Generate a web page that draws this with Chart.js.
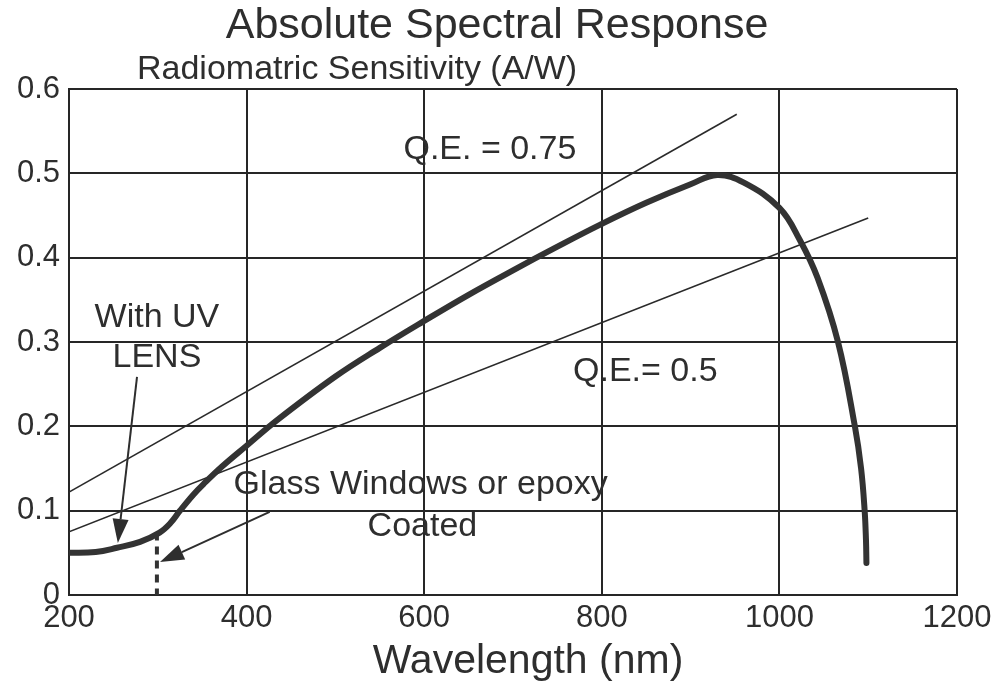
<!DOCTYPE html>
<html>
<head>
<meta charset="utf-8">
<script src="https://cdn.jsdelivr.net/npm/chart.js@4"></script>
<style>
  html, body { margin: 0; padding: 0; background: #fff; }
  #wrap { width: 1001px; height: 695px; }
</style>
</head>
<body>
<div id="wrap"><canvas id="chart" width="1001" height="695"></canvas></div>
<script>
// ---------- Data ----------
const wavelength = [200, 230, 254, 280, 302, 314, 325, 340, 351, 372, 400, 434, 500, 550, 600, 650, 700, 750, 800, 850, 900, 930, 960, 1000, 1023, 1043, 1066, 1085, 1092, 1096, 1097.5, 1098];
const response   = [0.050, 0.051, 0.056, 0.063, 0.074, 0.085, 0.100, 0.119, 0.131, 0.152, 0.177, 0.207, 0.259, 0.293, 0.325, 0.356, 0.385, 0.413, 0.440, 0.465, 0.487, 0.498, 0.489, 0.459, 0.421, 0.376, 0.300, 0.200, 0.150, 0.100, 0.065, 0.038];

const qe75X = [200, 952];
const qe75Y = [0.122, 0.570];
const qe50X = [200, 1100];
const qe50Y = [0.075, 0.447];
const cutoffX = [299, 299];
const cutoffY = [0.074, 0.0];

const xTicks = [200, 400, 600, 800, 1000, 1200];
const xTickLabels = ["200", "400", "600", "800", "1000", "1200"];
const yTicks = [0, 0.1, 0.2, 0.3, 0.4, 0.5, 0.6];
const yTickLabels = ["0", "0.1", "0.2", "0.3", "0.4", "0.5", "0.6"];

// ---------- Helpers ----------
const INK = "#2e2e2e";
const FONT = '"Liberation Sans", Arial, sans-serif';

function pts(xs, ys) {
  return xs.map((x, i) => ({ x: x, y: ys[i] }));
}

// notes in data coordinates
const notes = [
  { text: "Q.E. = 0.75", x: 674, y: 0.528, size: 34 },
  { text: "Q.E.= 0.5", x: 849, y: 0.265, size: 34 },
  { text: "With UV", x: 299, y: 0.329, size: 34 },
  { text: "LENS", x: 299, y: 0.281, size: 34 },
  { text: "Glass Windows or epoxy", x: 596, y: 0.131, size: 34 },
  { text: "Coated", x: 598, y: 0.081, size: 34 },
];
const arrows = [
  { from: [276.6, 0.2586], to: [255, 0.0617] },
  { from: [426, 0.0985], to: [302.5, 0.039] },
];

const decor = {
  id: "decor",
  afterDatasetsDraw(chart) {
    const { ctx, scales } = chart;
    const xs = scales.x, ys = scales.y;
    ctx.save();
    ctx.fillStyle = INK;
    ctx.strokeStyle = INK;
    ctx.textAlign = "center";
    ctx.textBaseline = "middle";
    for (const n of notes) {
      ctx.font = n.size + "px " + FONT;
      ctx.fillText(n.text, xs.getPixelForValue(n.x), ys.getPixelForValue(n.y));
    }
    for (const a of arrows) {
      const x1 = xs.getPixelForValue(a.from[0]), y1 = ys.getPixelForValue(a.from[1]);
      const x2 = xs.getPixelForValue(a.to[0]), y2 = ys.getPixelForValue(a.to[1]);
      const ang = Math.atan2(y2 - y1, x2 - x1);
      const L = 24, W = 8;
      const bx = x2 - L * Math.cos(ang), by = y2 - L * Math.sin(ang);
      ctx.lineWidth = 2;
      ctx.beginPath();
      ctx.moveTo(x1, y1);
      ctx.lineTo(bx, by);
      ctx.stroke();
      ctx.beginPath();
      ctx.moveTo(x2, y2);
      ctx.lineTo(bx + W * Math.sin(ang), by - W * Math.cos(ang));
      ctx.lineTo(bx - W * Math.sin(ang), by + W * Math.cos(ang));
      ctx.closePath();
      ctx.fill();
    }
    ctx.restore();
  },
  afterDraw(chart) {
    const ctx = chart.ctx;
    ctx.save();
    ctx.fillStyle = INK;
    ctx.textBaseline = "middle";
    ctx.textAlign = "center";
    ctx.font = "43px " + FONT;
    ctx.fillText("Absolute Spectral Response", 497, 26);
    ctx.font = "41px " + FONT;
    ctx.fillText("Wavelength (nm)", 528, 662);
    ctx.textAlign = "left";
    ctx.font = "34px " + FONT;
    ctx.fillText("Radiomatric Sensitivity (A/W)", 137, 70);
    ctx.restore();
  },
};

// ---------- Chart ----------
new Chart(document.getElementById("chart"), {
  type: "scatter",
  data: {
    datasets: [
      {
        label: "Response",
        data: pts(wavelength, response),
        showLine: true,
        borderColor: "#333",
        borderWidth: 6,
        pointRadius: 0,
        tension: 0.4,
        borderCapStyle: "round",
        borderJoinStyle: "round",
      },
      {
        label: "QE 0.75",
        data: pts(qe75X, qe75Y),
        showLine: true,
        borderColor: "#2a2a2a",
        borderWidth: 1.6,
        pointRadius: 0,
      },
      {
        label: "QE 0.5",
        data: pts(qe50X, qe50Y),
        showLine: true,
        borderColor: "#2a2a2a",
        borderWidth: 1.6,
        pointRadius: 0,
      },
      {
        label: "Glass cutoff",
        data: pts(cutoffX, cutoffY),
        showLine: true,
        borderColor: "#333",
        borderWidth: 4,
        borderDash: [8, 6],
        pointRadius: 0,
      },
    ],
  },
  options: {
    responsive: false,
    animation: false,
    layout: { padding: { top: 89, left: 0, right: 44, bottom: 0 } },
    plugins: {
      legend: { display: false },
      tooltip: { enabled: false },
      title: { display: false },
    },
    scales: {
      x: {
        type: "linear",
        min: 200,
        max: 1200,
        afterBuildTicks: (s) => { s.ticks = xTicks.map((v) => ({ value: v })); },
        afterFit: (s) => { s.height = 100; },
        ticks: {
          color: INK,
          padding: 5,
          font: { family: FONT, size: 31 },
          maxRotation: 0,
          callback: (v, i) => xTickLabels[i],
        },
        grid: { color: "#262626", lineWidth: 2, drawTicks: false },
        border: { color: "#262626", width: 2 },
      },
      y: {
        type: "linear",
        min: 0,
        max: 0.6,
        afterBuildTicks: (s) => { s.ticks = yTicks.map((v) => ({ value: v })); },
        afterFit: (s) => { s.width = 69; },
        ticks: {
          color: INK,
          padding: 9,
          font: { family: FONT, size: 31 },
          callback: (v, i) => yTickLabels[i],
        },
        grid: { color: "#262626", lineWidth: 2, drawTicks: false },
        border: { color: "#262626", width: 2 },
      },
    },
  },
  plugins: [decor],
});
</script>
</body>
</html>
